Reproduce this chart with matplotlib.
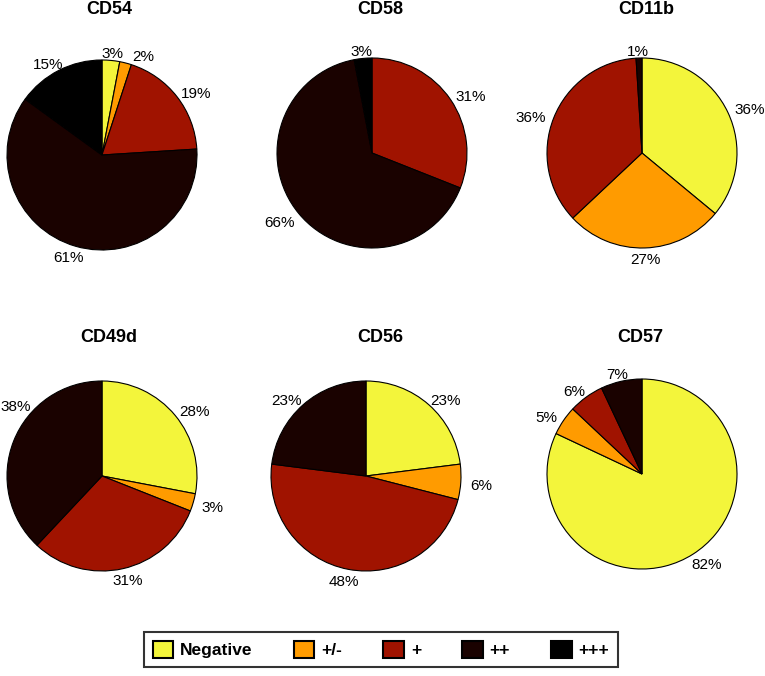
import numpy as np
import matplotlib
matplotlib.use("Agg")
import matplotlib.pyplot as plt
from matplotlib.patches import Patch

plt.rcParams['font.family'] = ['Liberation Sans', 'DejaVu Sans']

categories = ['Negative', '+/-', '+', '++', '+++']
colors = ['#f3f53b', '#ff9b00', '#a01300', '#1a0200', '#000000']

markers = ['CD54', 'CD58', 'CD11b', 'CD49d', 'CD56', 'CD57']
cd54 = [3, 2, 19, 61, 15]
cd58 = [0, 0, 31, 66, 3]
cd11b = [36, 27, 36, 1, 0]
cd49d = [28, 3, 31, 38, 0]
cd56 = [23, 6, 48, 23, 0]
cd57 = [82, 5, 6, 7, 0]
values = [cd54, cd58, cd11b, cd49d, cd56, cd57]

W, H = 765, 676
fig = plt.figure(figsize=(W / 100, H / 100), dpi=100)

# pie centres / radius and title positions in pixels (from top-left)
centres = [(102, 155), (372, 153), (642, 153), (102, 476), (366, 476), (642, 474)]
title_pos = [(109, 10), (380, 10), (646, 10), (109, 338), (380, 338), (640, 338)]
r = 95

axes = []
for name, vals, (cx, cy), (tx, ty) in zip(markers, values, centres, title_pos):
    ax = fig.add_axes([(cx - r) / W, (H - cy - r) / H, 2 * r / W, 2 * r / H])
    keep = [i for i, v in enumerate(vals) if v > 0]
    v = [vals[i] for i in keep]
    c = [colors[i] for i in keep]
    labs = ['%d%%' % x for x in v]
    wedges, texts = ax.pie(v, labels=labs, colors=c, startangle=90, counterclock=False,
                           labeldistance=1.1, radius=1,
                           wedgeprops=dict(edgecolor='black', linewidth=0.8),
                           textprops=dict(fontsize=11))
    ax.set_xlim(-1, 1)
    ax.set_ylim(-1, 1)
    ax.axis('off')
    fig.text(tx / W, 1 - ty / H, name, ha='center', va='center',
             fontsize=13, fontweight='bold')
    axes.append((ax, wedges, texts))

fig.canvas.draw()
renderer = fig.canvas.get_renderer()


def label_centre(ax, ang, w):
    # point at 1.1 radius, pushed out by half the text width (MATLAB-like)
    bx, by = ax.transData.transform((1.1 * np.cos(ang), 1.1 * np.sin(ang)))
    return bx + w / 2 * np.cos(ang), by - 3


for ax, wedges, texts in axes:
    boxes = []
    for w, t in zip(wedges, texts):
        ang = np.deg2rad((w.theta1 + w.theta2) / 2)
        t.set_ha('center')
        t.set_va('center')
        bb = t.get_window_extent(renderer)
        tw, th = bb.width, bb.height
        px, py = label_centre(ax, ang, tw)
        # slide along the rim towards the top if the label leaves the figure
        step = np.deg2rad(1) * (1 if np.cos(ang) > 0 else -1)
        while (px - tw / 2 < 0 or px + tw / 2 > W) and np.sin(ang) > -0.9:
            ang += step
            px, py = label_centre(ax, ang, tw)
        # push apart from earlier labels of the same pie
        for (qx, qy, qw, qh) in boxes:
            if abs(py - qy) < (th + qh) / 2 and abs(px - qx) < (tw + qw) / 2 + 8:
                sgn = 1 if px >= qx else -1
                px = qx + sgn * ((tw + qw) / 2 + 8)
        boxes.append((px, py, tw, th))
        t.set_position(ax.transData.inverted().transform((px, py)))

handles = [Patch(facecolor=col, edgecolor='black', linewidth=1.5) for col in colors]
leg = fig.legend(handles, categories, loc='center', bbox_to_anchor=(381 / W, 1 - 649.5 / H),
                 ncol=5, frameon=True, fancybox=False, handlelength=1.2, handleheight=1.2,
                 handletextpad=0.4, columnspacing=2.35, borderpad=0.5,
                 prop={'weight': 'bold', 'size': 12.5})
leg.get_frame().set_edgecolor('black')
leg.get_frame().set_linewidth(1.5)

fig.savefig('out.png', dpi=100)
